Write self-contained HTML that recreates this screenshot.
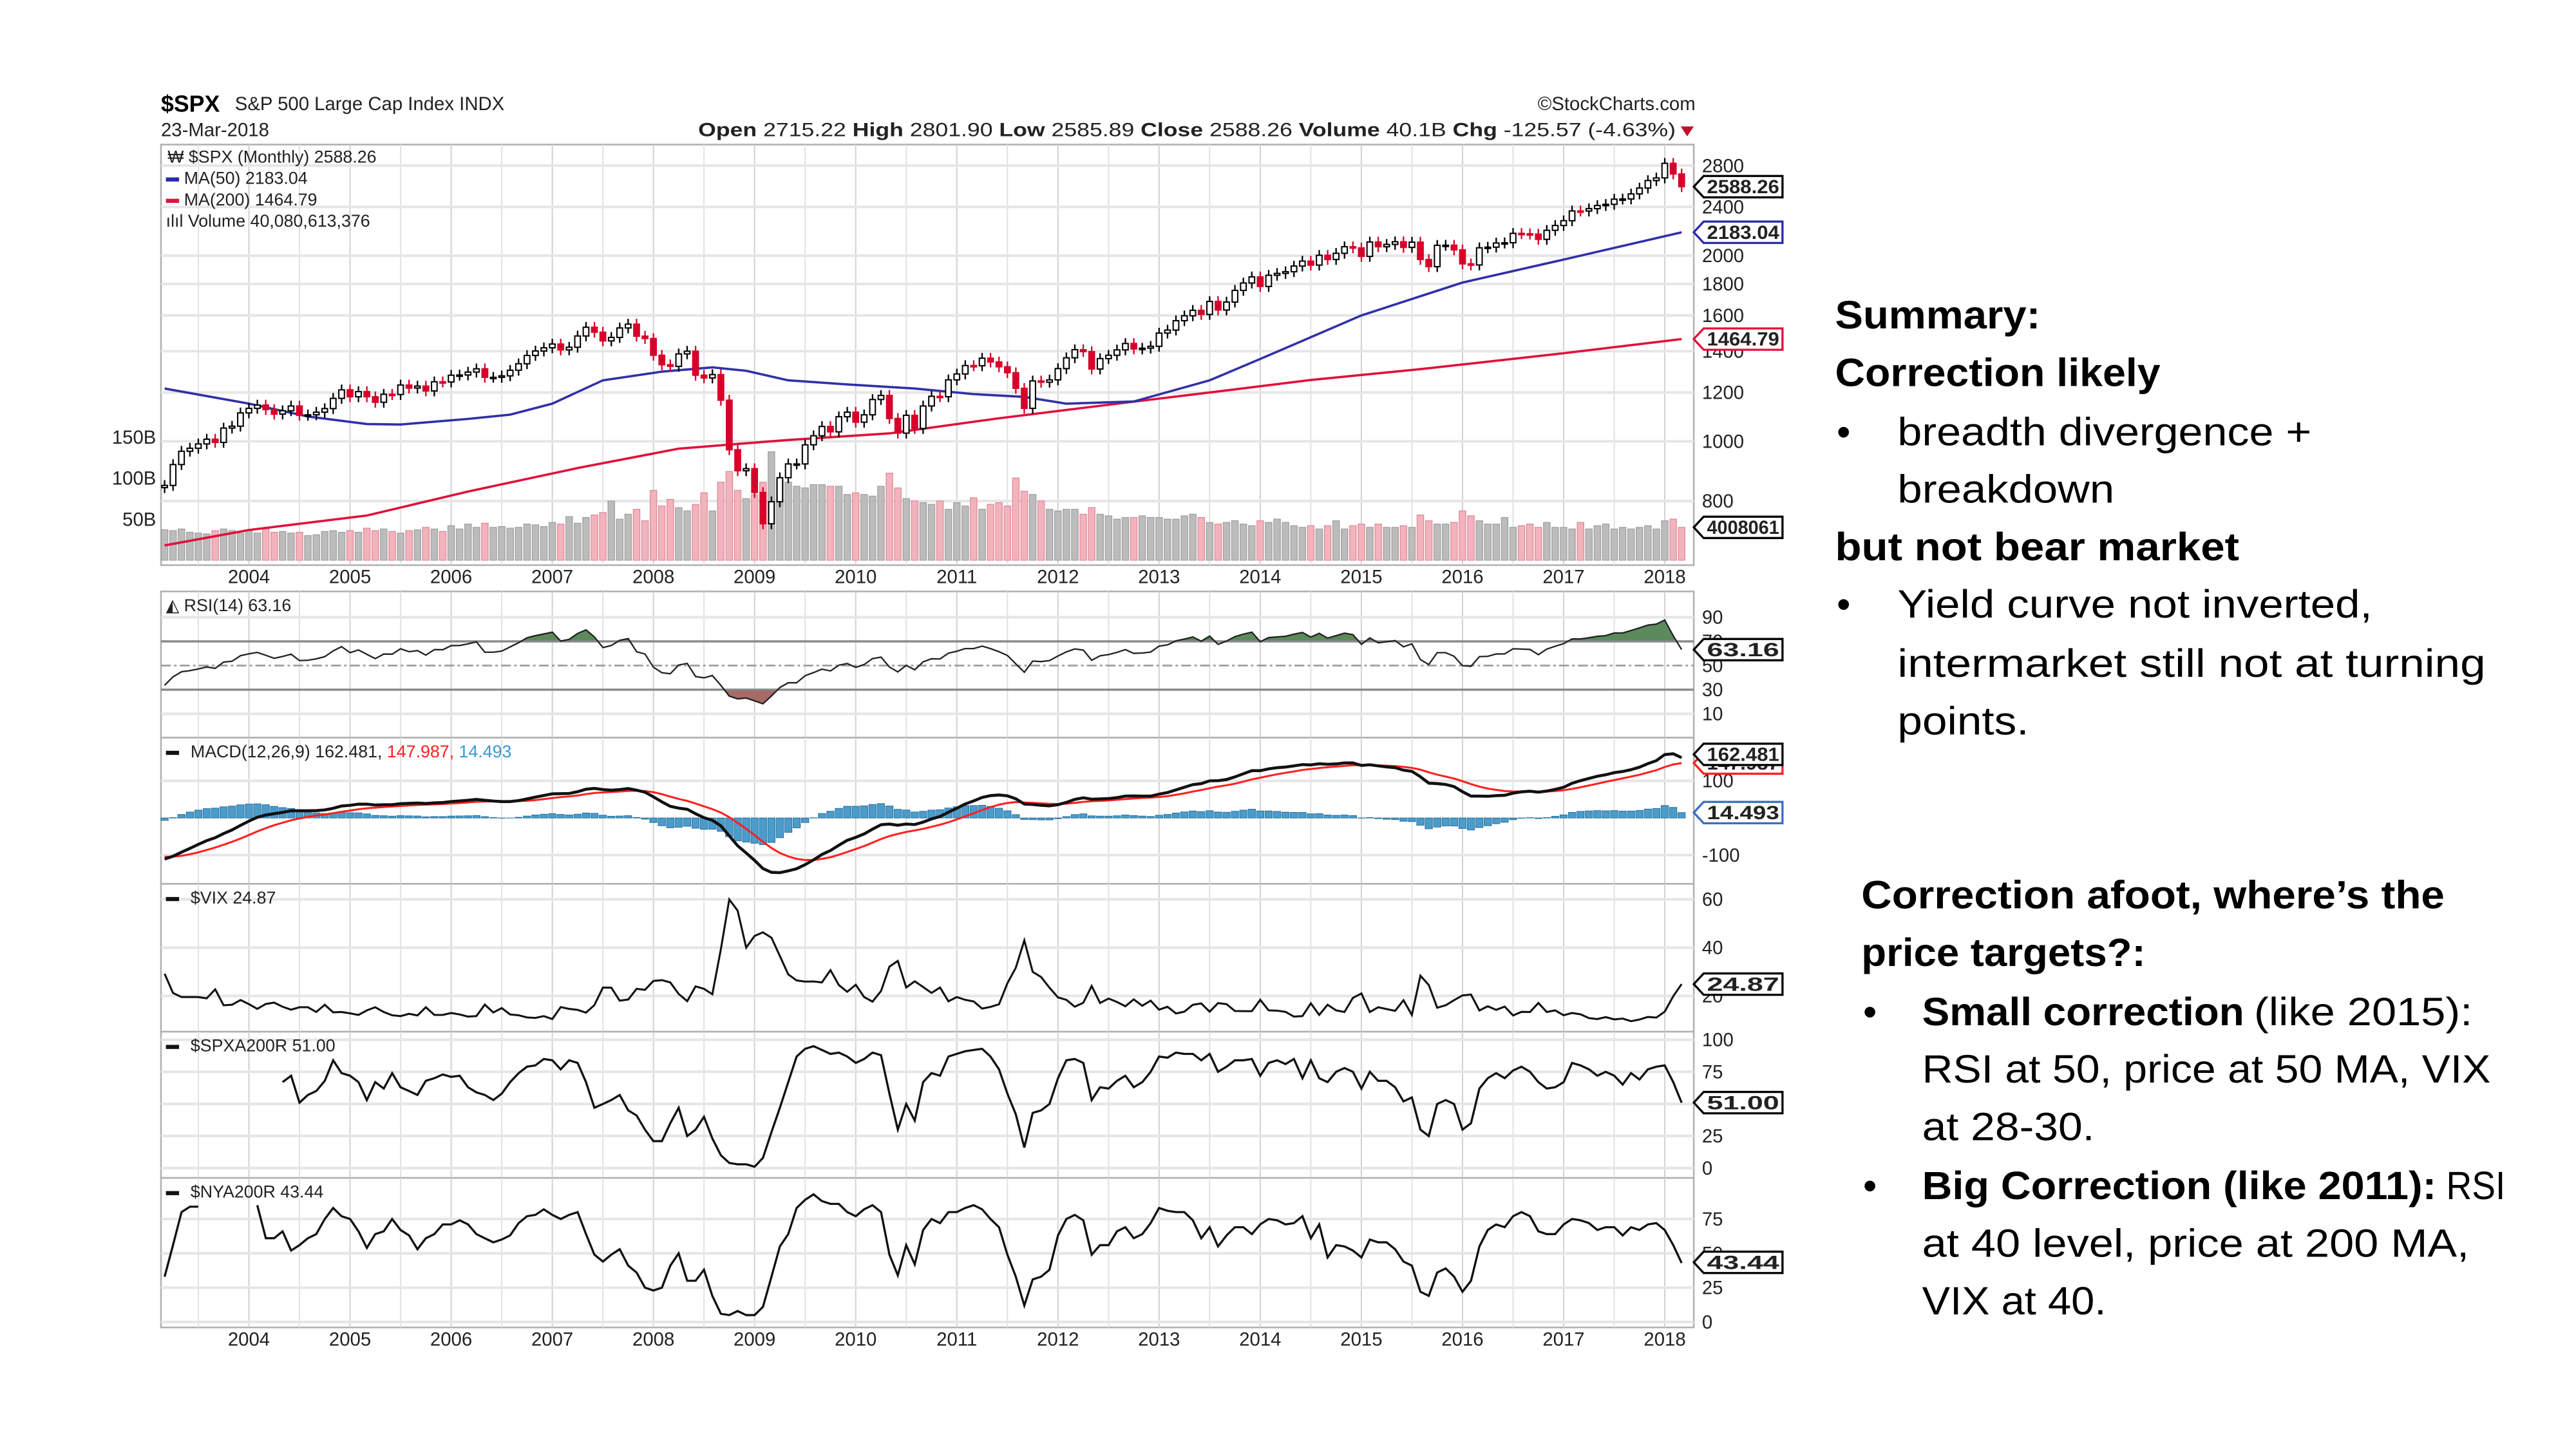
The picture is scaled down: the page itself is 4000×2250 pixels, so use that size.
<!DOCTYPE html>
<html><head><meta charset="utf-8"><title>SPX chart with summary</title>
<style>
html,body{margin:0;padding:0;background:#fff;}
svg{display:block;}
.ax{font-family:"Liberation Sans",sans-serif;font-size:11.5px;fill:#222;}
.lg{font-family:"Liberation Sans",sans-serif;font-size:10.5px;fill:#222;}
.sm{font-family:"Liberation Sans",sans-serif;font-size:24px;fill:#000;}
.b{font-weight:bold;}
</style></head>
<body>
<svg id="root" width="4000" height="2250" viewBox="0 0 1568 882" xmlns="http://www.w3.org/2000/svg">
<rect x="0" y="0" width="1568" height="882" fill="#fff"/>
<g>
<text x="98" y="68" font-family="Liberation Sans,sans-serif" font-size="14" font-weight="bold">$SPX</text>
<text x="143" y="67" class="ax" font-size="11.5">S&amp;P 500 Large Cap Index  INDX</text>
<text x="1032" y="67" class="ax" fill="#555" text-anchor="end">©StockCharts.com</text>
<text x="98" y="83" class="ax">23-Mar-2018</text>
<text x="425" y="83" class="ax" textLength="595" lengthAdjust="spacingAndGlyphs"><tspan class="b">Open</tspan> 2715.22 <tspan class="b">High</tspan> 2801.90 <tspan class="b">Low</tspan> 2585.89 <tspan class="b">Close</tspan> 2588.26 <tspan class="b">Volume</tspan> 40.1B <tspan class="b">Chg</tspan> -125.57 (-4.63%)</text>
<path d="M1023,77 L1031,77 L1027,83 Z" fill="#c0102a"/>
</g>
<g id="chart"></g>

<g>
<text x="1117" y="200" class="sm b" textLength="125" lengthAdjust="spacingAndGlyphs">Summary:</text>
<text x="1117" y="235" class="sm b" textLength="198" lengthAdjust="spacingAndGlyphs">Correction likely</text>
<text x="1118" y="271" class="sm">•</text>
<text x="1155" y="271" class="sm" textLength="252" lengthAdjust="spacingAndGlyphs">breadth divergence +</text>
<text x="1155" y="306" class="sm" textLength="132" lengthAdjust="spacingAndGlyphs">breakdown</text>
<text x="1117" y="341" class="sm b" textLength="246" lengthAdjust="spacingAndGlyphs">but not bear market</text>
<text x="1118" y="376" class="sm">•</text>
<text x="1155" y="376" class="sm" textLength="289" lengthAdjust="spacingAndGlyphs">Yield curve not inverted,</text>
<text x="1155" y="412" class="sm" textLength="358" lengthAdjust="spacingAndGlyphs">intermarket still not at turning</text>
<text x="1155" y="447" class="sm" textLength="80" lengthAdjust="spacingAndGlyphs">points.</text>

<text x="1133" y="553" class="sm b" textLength="355" lengthAdjust="spacingAndGlyphs">Correction afoot, where’s the</text>
<text x="1133" y="588" class="sm b" textLength="173" lengthAdjust="spacingAndGlyphs">price targets?:</text>
<text x="1134" y="624" class="sm">•</text>
<text x="1170" y="624" class="sm b" textLength="196" lengthAdjust="spacingAndGlyphs">Small correction</text>
<text x="1372" y="624" class="sm" textLength="133" lengthAdjust="spacingAndGlyphs">(like 2015):</text>
<text x="1170" y="659" class="sm" textLength="346" lengthAdjust="spacingAndGlyphs">RSI at 50, price at 50 MA, VIX</text>
<text x="1170" y="694" class="sm" textLength="105" lengthAdjust="spacingAndGlyphs">at 28-30.</text>
<text x="1134" y="730" class="sm">•</text>
<text x="1170" y="730" class="sm b" textLength="313" lengthAdjust="spacingAndGlyphs">Big Correction (like 2011):</text>
<text x="1489" y="730" class="sm" textLength="36" lengthAdjust="spacingAndGlyphs">RSI</text>
<text x="1170" y="765" class="sm" textLength="333" lengthAdjust="spacingAndGlyphs">at 40 level, price at 200 MA,</text>
<text x="1170" y="800" class="sm" textLength="112" lengthAdjust="spacingAndGlyphs">VIX at 40.</text>
</g>
</svg>

<script>
// ===== DATA =====
// Monthly closes Jan 2000 .. Mar 2018 (chart shows from Mar 2003)
const closes = [
1394.5,1366.4,1498.6,1452.4,1420.6,1454.6,1430.8,1517.7,1436.5,1429.4,1315.2,1320.3,
1366.0,1239.9,1160.3,1249.5,1255.8,1224.4,1211.2,1133.6,1040.9,1059.8,1139.5,1148.1,
1130.2,1106.7,1147.4,1076.9,1067.1,989.8,911.6,916.1,815.3,885.8,936.3,879.8,
855.7,841.2,848.2,916.9,963.6,974.5,990.3,1008.0,996.0,1050.7,1058.2,1111.9,
1131,1145,1126,1107,1121,1141,1102,1104,1115,1130,1174,1212,
1181,1204,1181,1157,1192,1191,1234,1220,1229,1207,1249,1248,
1280,1281,1295,1311,1270,1270,1277,1304,1336,1378,1401,1418,
1438,1407,1421,1482,1531,1503,1455,1474,1527,1549,1481,1468,
1379,1331,1323,1386,1400,1280,1267,1283,1166,969,896,903,
826,735,798,873,919,919,987,1021,1057,1036,1096,1115,
1074,1104,1169,1187,1089,1031,1102,1049,1141,1183,1181,1258,
1286,1327,1326,1364,1345,1321,1292,1219,1131,1253,1247,1258,
1312,1366,1408,1398,1310,1362,1379,1407,1441,1412,1416,1426,
1498,1515,1569,1598,1631,1606,1686,1633,1682,1757,1806,1848,
1783,1859,1872,1884,1924,1960,1931,2003,1972,2018,2068,2059,
1995,2105,2068,2086,2107,2063,2104,1972,1920,2079,2080,2044,
1940,1932,2060,2065,2097,2099,2174,2171,2168,2126,2199,2239,
2279,2364,2363,2384,2412,2423,2470,2472,2519,2575,2648,2674,
2824,2714,2588.26];
// Monthly volume in billions, Mar 2003 .. Mar 2018
const volumes = [
37,36,38,34,33,32,36,38,36,33,
36,33,38,34,35,33,34,30,31,35,36,34,
36,34,39,36,38,35,33,36,37,40,38,35,
42,38,44,40,45,40,41,39,40,44,43,41,
46,44,53,45,52,55,58,72,50,56,62,48,
85,66,74,64,60,68,82,60,95,108,85,75,
80,95,132,98,95,90,88,92,92,90,90,80,
82,80,78,90,106,88,75,72,70,68,72,62,
70,66,76,62,68,70,66,100,84,80,72,62,
60,62,62,56,64,56,54,50,52,52,54,52,
52,50,50,54,56,52,46,44,46,48,44,42,
48,46,50,46,42,40,42,38,42,48,38,42,
44,40,44,40,40,42,40,55,48,44,44,46,
60,54,48,44,44,52,40,42,44,40,46,40,
40,38,46,38,42,44,38,40,38,40,42,38,
48,50,40];
// MA lines sampled (month offset from Jan 2004, value)
const ma50Months = [-10,0,7,14,18,26,31,36,42,49,55,59,64,71,79,86,92,97,105,114,120,132,144,156,170];
const ma50Vals   = [1218,1151,1097,1067,1065,1087,1105,1151,1256,1297,1318,1301,1256,1237,1218,1193,1180,1151,1160,1256,1360,1600,1809,1971,2183];
const ma200Months = [-10,0,14,26,39,51,64,76,89,101,114,126,139,156,170];
const ma200Vals   = [678,718,758,829,905,973,1005,1030,1090,1142,1200,1257,1309,1390,1465];
// VIX monthly close Mar 2003 .. Mar 2018
const vix = [
29.2,21.2,19.5,19.5,19.5,19,22.7,16.1,16.3,18.3,
16.6,14.6,16.7,17.2,15.5,14.3,15.3,15.3,13.3,16.3,13.2,13.3,
12.8,12.1,14.0,15.3,13.3,12.0,11.6,12.6,11.9,15.3,12.1,12.1,
12.95,12.3,11.4,11.6,16.4,13.1,14.95,12.3,11.98,11.1,10.9,11.6,
10.4,15.4,14.6,14.2,13.05,16.2,23.5,23.4,18.0,18.5,22.9,22.5,
26.2,26.5,25.6,20.8,17.8,23.95,22.9,20.65,39.4,59.9,55.3,40.0,
44.8,46.35,44.1,36.5,28.9,26.4,25.9,26.0,25.6,30.7,24.5,21.7,
24.6,19.5,17.6,22.05,32.1,34.5,23.5,26.05,23.7,21.2,23.5,17.75,
19.5,18.35,17.7,14.75,15.45,16.5,25.25,31.6,42.96,29.96,27.8,23.4,
19.4,18.4,15.5,17.15,24.06,17.08,18.9,17.5,15.7,18.6,15.9,18.0,
14.3,15.5,12.7,13.5,16.3,16.9,13.45,17.0,16.6,13.75,13.7,13.7,
18.4,14.0,13.9,13.4,11.4,11.6,16.95,12.1,16.3,14.0,13.3,19.2,
21.0,13.3,15.3,14.55,13.8,18.2,12.1,28.4,24.5,15.1,16.1,18.2,
20.2,20.55,13.95,15.7,14.2,15.6,11.9,13.4,13.3,17.1,13.3,14.0,
11.99,12.9,12.4,10.8,10.4,11.2,10.3,10.6,9.5,10.2,11.3,11.0,
13.5,19.85,24.87];
// % of SPX stocks above 200-day MA (ends Mar 2018)
const spxa = [67,72,51,57,60,68,84,74,72,67,53,67,62,74,63,60,57,68,70,73,
71,72,63,59,57,53,58,67,74,79,80,85,84,77,84,82,67,47,50,53,
57,45,41,30,21,21,35,47,25,30,40,23,10,4,3,3,1,8,28,47,
67,87,93,95,92,89,90,87,82,85,90,88,58,30,50,37,67,74,72,87,
89,91,92,93,87,77,58,42,16,43,45,50,70,84,85,82,53,63,62,68,
72,63,67,75,87,86,90,89,89,84,89,75,79,84,84,85,72,82,84,81,
85,70,84,70,67,75,78,75,62,75,68,68,63,52,55,30,25,50,53,50,
30,35,62,70,74,70,76,79,75,67,62,63,67,82,80,77,72,75,72,65,
74,69,77,79,80,67,51];
// % of NYSE stocks above 200-day MA, Mar 2003 .. Mar 2018 (null = gap)
const nya = [33,56,80,84,84,null,null,null,null,null,null,
85,61,61,66,52,56,61,64,75,83,77,75,66,54,64,66,75,67,63,53,
61,64,71,71,74,71,64,61,58,60,63,72,77,78,82,78,75,78,80,64,
49,44,49,53,41,36,25,23,25,41,50,30,30,38,19,6,5,8,5,5,
11,33,55,64,83,89,93,88,86,86,80,77,82,85,80,49,34,
56,42,67,75,72,80,80,83,85,82,75,69,49,33,12,31,33,38,63,75,
78,74,49,56,56,66,69,61,64,72,83,81,80,80,74,61,69,55,63,69,
69,64,71,75,74,71,72,77,61,71,47,56,55,52,47,60,58,58,53,44,
41,22,19,36,39,33,22,30,55,67,71,69,77,80,77,66,64,64,71,75,
74,72,67,69,69,63,69,67,71,72,67,56,43];
const yearLabels = ['2004','2005','2006','2007','2008','2009','2010','2011','2012','2013','2014','2015','2016','2017','2018'];
const priceTicks = [800,1000,1200,1400,1600,1800,2000,2400,2800];
const volTicks = [50,100,150];
const rsiTicks = [10,30,50,70,90];
const macdTicks = [-100,100];
const vixTicks = [20,40,60];
const spxaTicks = [0,25,50,75,100];
const nyaTicks = [0,25,50,75];

// ===== SCALES =====
const L = 98, R = 1031;
const END = 170; // Mar 2018 month offset
function X(m){ return 151.5 + m*5.13; }
function Yp(v){ return 305 - 163*Math.log(v/800); }
function Yvol(b){ return 341 - b*0.5; }
function Yrsi(v){ return 405.1 - (v-50)*0.735; }
function Ymacd(v){ return 497.9 - v*0.226; }
function Yvix(v){ return 606.2 - (v-20)*1.47; }
function Yspxa(v){ return 711 - v*0.781; }
function Ynya(v){ return 804.7 - v*0.836; }

const NS = 'http://www.w3.org/2000/svg';
const chart = document.getElementById('chart');
function mk(tag, attrs, parent){
  const el = document.createElementNS(NS, tag);
  for (const k in attrs) el.setAttribute(k, attrs[k]);
  (parent||chart).appendChild(el);
  return el;
}
function label(x,y,s,name,extra){
  const el = mk('text', Object.assign({x:x,y:y,class:'ax'}, extra||{}));
  el.textContent = s;
  
  
  return el;
}

// panels
const panels = [
  {n:'price-panel', t:88, b:344},
  {n:'rsi-panel', t:360, b:449},
  {n:'macd-panel', t:449, b:538},
  {n:'vix-panel', t:538, b:628},
  {n:'spxa200r-panel', t:628, b:717},
  {n:'nya200r-panel', t:717, b:808}
];
panels.forEach(p=>{
  const r = mk('rect',{x:L,y:p.t,width:R-L,height:p.b-p.t,fill:'#fff',stroke:'#b0b0b0','stroke-width':1});
  
  
  // vertical half-year grid
  for (let m=-6; m<=END; m+=6){
    const x = X(m);
    if (x<=L||x>=R) continue;
    const g = mk('line',{x1:x,x2:x,y1:p.t,y2:p.b,stroke: (m%12===0)?'#d2d2d2':'#e2e2e2','stroke-width':0.8});
    
    
  }
});
function hgrid(ticks, yf, name){
  ticks.forEach(v=>{
    const y = yf(v);
    const g = mk('line',{x1:L,x2:R,y1:y,y2:y,stroke:'#e6e6e6','stroke-width':1.6});
    
    
  });
}
hgrid(priceTicks, Yp, 'price-gridline');
hgrid(rsiTicks.filter(v=>v===10||v===90), Yrsi, 'rsi-gridline');
hgrid(macdTicks, Ymacd, 'macd-gridline');
hgrid(vixTicks, Yvix, 'vix-gridline');
hgrid(spxaTicks, Yspxa, 'spxa-gridline');
hgrid(nyaTicks, Ynya, 'nya-gridline');

// year labels
yearLabels.forEach((s,i)=>{
  label(X(i*12), 355, s, 'x-axis-year-label', {'text-anchor':'middle'});
  label(X(i*12), 819, s, 'x-axis-year-label', {'text-anchor':'middle'});
});

// ===== VOLUME =====
const OFF = 38; // closes index of Mar 2003
volumes.forEach((v,i)=>{
  const ci = OFF + i, m = ci - 48;
  const down = closes[ci] < closes[ci-1];
  const x = X(m);
  const b = mk('rect',{x:x-2,y:Yvol(v),width:4,height:341-Yvol(v),fill:down?'#f2b3bd':'#bcbcbc',stroke:down?'#e08a98':'#a0a0a0','stroke-width':0.5});
  
  
});

// ===== MA LINES =====
function polyPts(months, vals, yf){ return months.map((m,i)=>X(m).toFixed(1)+','+yf(vals[i]).toFixed(1)).join(' '); }
const ma200 = mk('polyline',{points:polyPts(ma200Months,ma200Vals,Yp),fill:'none',stroke:'#e0103c','stroke-width':1.4});


const ma50 = mk('polyline',{points:polyPts(ma50Months,ma50Vals,Yp),fill:'none',stroke:'#3030a8','stroke-width':1.4});



// ===== CANDLES =====
for (let ci=OFF; ci<closes.length; ci++){
  const o = closes[ci-1], c = closes[ci], m = ci-48, x = X(m);
  const up = c >= o;
  const hi = Math.max(o,c)*1.02, lo = Math.min(o,c)*0.98;
  const col = up ? '#000' : '#d8002a';
  const w = mk('line',{x1:x,x2:x,y1:Yp(hi),y2:Yp(lo),stroke:col,'stroke-width':0.9});
  
  
  const yt = Yp(Math.max(o,c)), yb = Yp(Math.min(o,c));
  const bd = mk('rect',{x:x-1.7,y:yt,width:3.4,height:Math.max(0.8,yb-yt),fill:up?'#fff':'#d8002a',stroke:col,'stroke-width':0.8});
  
  
}

// ===== RSI =====
const rsi = new Array(closes.length).fill(null);
(function(){
  let ag=0, al=0;
  for (let i=1;i<=14;i++){ const d=closes[i]-closes[i-1]; if(d>0) ag+=d; else al-=d; }
  ag/=14; al/=14; rsi[14] = 100 - 100/(1+ag/al);
  for (let i=15;i<closes.length;i++){
    const d=closes[i]-closes[i-1];
    ag=(ag*13+Math.max(d,0))/14; al=(al*13+Math.max(-d,0))/14;
    rsi[i] = 100 - 100/(1+ag/al);
  }
})();
const rsiPts = [];
for (let ci=OFF; ci<closes.length; ci++) rsiPts.push([X(ci-48), Yrsi(rsi[ci])]);
const defs = mk('defs',{});
const c1 = mk('clipPath',{id:'clipOB'},defs); mk('rect',{x:L,y:360,width:R-L,height:Yrsi(70)-360},c1);
const c2 = mk('clipPath',{id:'clipOS'},defs); mk('rect',{x:L,y:Yrsi(30),width:R-L,height:449-Yrsi(30)},c2);
const ptsStr = rsiPts.map(p=>p[0].toFixed(1)+','+p[1].toFixed(1)).join(' ');
const fOB = mk('polygon',{points:ptsStr+' '+rsiPts[rsiPts.length-1][0]+','+Yrsi(70)+' '+rsiPts[0][0]+','+Yrsi(70),fill:'#5c8a5c','clip-path':'url(#clipOB)',stroke:'none'});


const fOS = mk('polygon',{points:ptsStr+' '+rsiPts[rsiPts.length-1][0]+','+Yrsi(30)+' '+rsiPts[0][0]+','+Yrsi(30),fill:'#a86a66','clip-path':'url(#clipOS)',stroke:'none'});


[70,30].forEach(v=>{
  const l = mk('line',{x1:L,x2:R,y1:Yrsi(v),y2:Yrsi(v),stroke:'#888','stroke-width':1.3});
  
  
});
const mid = mk('line',{x1:L,x2:R,y1:Yrsi(50),y2:Yrsi(50),stroke:'#999','stroke-width':1,'stroke-dasharray':'6,2,1.5,2'});


const rl = mk('polyline',{points:ptsStr,fill:'none',stroke:'#222','stroke-width':0.9});



// ===== MACD =====
function ema(arr, n){ const k=2/(n+1); const out=[arr[0]]; for(let i=1;i<arr.length;i++) out.push(arr[i]*k+out[i-1]*(1-k)); return out; }
const e12 = ema(closes,12), e26 = ema(closes,26);
const macd = closes.map((_,i)=>e12[i]-e26[i]);
const sig = ema(macd,9);
for (let ci=OFF; ci<closes.length; ci++){
  const h = macd[ci]-sig[ci], x = X(ci-48);
  const y0 = Ymacd(0), y1 = Ymacd(h);
  const hb = mk('rect',{x:x-2.2,y:Math.min(y0,y1),width:4.4,height:Math.abs(y1-y0),fill:'#4a9ccc',stroke:'#2a6f99','stroke-width':0.4});
  
  
}
function seriesLine(arr, yf, from){ const a=[]; for(let ci=from; ci<arr.length; ci++) a.push(X(ci-48).toFixed(1)+','+yf(arr[ci]).toFixed(1)); return a.join(' '); }
const sl = mk('polyline',{points:seriesLine(sig,Ymacd,OFF),fill:'none',stroke:'#ff2020','stroke-width':1.2});


const ml = mk('polyline',{points:seriesLine(macd,Ymacd,OFF),fill:'none',stroke:'#111','stroke-width':1.8});



// ===== VIX / breadth =====
function lineFrom(arr, yf, endM){
  const start = endM - (arr.length-1); const segs=[]; let cur=[];
  arr.forEach((v,i)=>{ if(v===null){ if(cur.length) segs.push(cur); cur=[]; } else cur.push(X(start+i).toFixed(1)+','+yf(v).toFixed(1)); });
  if(cur.length) segs.push(cur);
  return segs;
}
lineFrom(vix, Yvix, END).forEach(s=>{
  const l = mk('polyline',{points:s.join(' '),fill:'none',stroke:'#111','stroke-width':1.2});
  
  
});
lineFrom(spxa, Yspxa, END).forEach(s=>{
  const l = mk('polyline',{points:s.join(' '),fill:'none',stroke:'#111','stroke-width':1.3});
  
  
});
lineFrom(nya, Ynya, END).forEach(s=>{
  const l = mk('polyline',{points:s.join(' '),fill:'none',stroke:'#111','stroke-width':1.3});
  
  
});

// ===== RIGHT AXIS LABELS =====
priceTicks.forEach(v=>label(1036, Yp(v)+4, String(v), 'price-axis-label'));
volTicks.forEach(v=>label(95, Yvol(v)+4, v+'B', 'volume-axis-label', {'text-anchor':'end'}));
rsiTicks.forEach(v=>label(1036, Yrsi(v)+4, String(v), 'rsi-axis-label'));
[100,-100].forEach(v=>label(1036, Ymacd(v)+4, String(v), 'macd-axis-label'));
vixTicks.forEach(v=>label(1036, Yvix(v)+4, String(v), 'vix-axis-label'));
spxaTicks.forEach(v=>label(1036, Yspxa(v)+4, String(v), 'spxa-axis-label'));
nyaTicks.forEach(v=>label(1036, Ynya(v)+4, String(v), 'nya-axis-label'));

function valueBox(y, s, color, name){
  const p = mk('path',{d:`M1031,${y} L1037,${y-6.5} L1085,${y-6.5} L1085,${y+6.5} L1037,${y+6.5} Z`,fill:'#fff',stroke:color,'stroke-width':1.3});
  
  
  label(1061, y+4, s, name, {'text-anchor':'middle','font-weight':'bold',fill:'#000','textLength':44,'lengthAdjust':'spacingAndGlyphs'});
}
valueBox(Yp(2588.26), '2588.26', '#000', 'price-value-label');
valueBox(Yp(2183.04), '2183.04', '#2a2aa8', 'ma50-value-label');
valueBox(Yp(1464.79), '1464.79', '#e0103c', 'ma200-value-label');
valueBox(321, '4008061', '#000', 'volume-value-label');
valueBox(Yrsi(63.16), '63.16', '#000', 'rsi-value-label');
valueBox(Ymacd(147.987), '147.987', '#ff2020', 'signal-value-label');
valueBox(Ymacd(162.481)-2, '162.481', '#000', 'macd-value-label');
valueBox(Ymacd(14.493), '14.493', '#3a6fc0', 'histogram-value-label');
valueBox(Yvix(24.87), '24.87', '#000', 'vix-value-label');
valueBox(Yspxa(51), '51.00', '#000', 'spxa-value-label');
valueBox(Ynya(43.44), '43.44', '#000', 'nya-value-label');

// ===== LEGENDS =====
function legend(x,y,s,name,fill){ const t = mk('text',{x:x,y:y,class:'lg',fill:fill||'#222'}); t.textContent=s;   return t; }
function dash(x,y,color){ const d = mk('rect',{x:x,y:y-4,width:8,height:2.5,fill:color});   }
legend(102, 99, '₩ $SPX (Monthly) 2588.26', 'legend-spx');
dash(101, 112, '#2a2aa8'); legend(112, 112, 'MA(50) 2183.04', 'legend-ma50', '#2a2aa8');
dash(101, 125, '#e0103c'); legend(112, 125, 'MA(200) 1464.79', 'legend-ma200', '#e0103c');
legend(101, 138, 'ılıl Volume 40,080,613,376', 'legend-volume', '#444');
legend(101, 372, '◭ RSI(14) 63.16', 'legend-rsi');
dash(101, 461, '#111');
const mt = legend(116, 461, 'MACD(12,26,9) 162.481, ', 'legend-macd');
const t2 = document.createElementNS(NS,'tspan'); t2.setAttribute('fill','#ff2020'); t2.textContent='147.987, '; mt.appendChild(t2);
const t3 = document.createElementNS(NS,'tspan'); t3.setAttribute('fill','#3a9ad0'); t3.textContent='14.493'; mt.appendChild(t3);
dash(101, 550, '#111'); legend(116, 550, '$VIX 24.87', 'legend-vix');
dash(101, 640, '#111'); legend(116, 640, '$SPXA200R 51.00', 'legend-spxa200r');
dash(101, 729, '#111'); legend(116, 729, '$NYA200R 43.44', 'legend-nya200r');
</script>
</body></html>
